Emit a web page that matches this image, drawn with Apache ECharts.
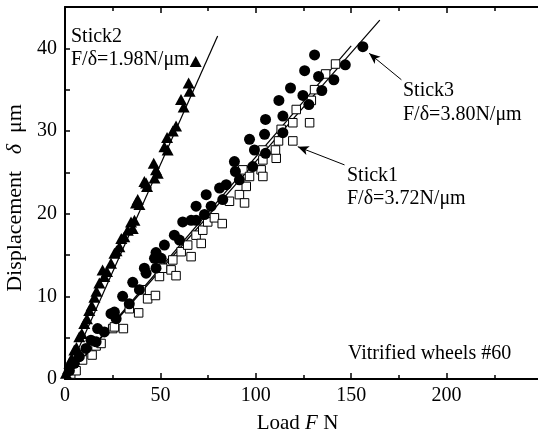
<!DOCTYPE html>
<html><head><meta charset="utf-8">
<script src="https://cdn.jsdelivr.net/npm/echarts@6/dist/echarts.min.js"></script>
<style>html,body{margin:0;padding:0;background:#fff}#c{width:538px;height:432px}</style>
</head><body><div id="c"></div>
<script>
// Stick1 (open squares)
const stick1F = [3.0,5.8,9.2,14.2,16.3,18.9,25.0,25.9,30.6,33.7,38.6,39.9,43.3,47.4,49.5,51.2,55.6,56.5,58.2,60.9,64.3,66.1,68.7,71.4,72.2,74.8,78.3,82.4,86.2,91.4,93.2,94.1,95.0,96.7,102.8,103.7,103.7,103.7,110.7,110.3,111.9,113.3,119.4,119.4,121.2,128.2,129.1,130.8,136.6,141.8];
const stick1D = [0.6,1.0,2.3,2.9,4.0,4.3,6.1,6.3,6.1,8.5,8.0,10.8,9.7,10.1,12.4,13.4,13.2,14.4,12.5,15.4,16.2,14.8,17.4,16.4,18.0,19.0,19.5,18.8,21.5,22.3,25.3,21.3,23.3,24.5,25.3,24.5,26.5,27.7,26.7,27.7,28.8,30.2,31.0,28.8,32.6,31.0,33.7,35.0,36.9,38.1];
// Stick3 (filled circles)
const stick3F = [2.3,4.9,7.5,11.0,13.6,16.3,17.1,20.6,24.1,25.9,26.8,30.2,33.7,35.5,39.0,42.5,41.6,47.7,46.9,50.4,47.7,52.1,57.3,60.0,61.7,66.1,68.7,73.1,68.7,76.6,74.0,82.7,81.0,84.5,91.4,89.3,88.8,98.4,99.3,105.1,96.7,104.6,105.1,114.2,114.2,112.1,118.2,127.8,124.7,134.6,132.9,125.6,130.8,140.9,146.9,156.1];
const stick3D = [1.0,1.9,2.7,3.7,4.7,4.5,6.1,5.7,7.9,8.1,7.3,10.0,9.1,11.7,10.8,12.8,13.4,13.4,14.6,14.6,15.3,16.2,17.4,16.8,19.0,19.2,19.2,19.9,20.9,20.9,22.3,21.7,23.1,23.5,24.1,25.1,26.3,25.7,27.7,27.3,29.0,29.6,31.4,29.8,31.8,33.7,35.2,33.2,34.3,34.9,36.6,37.3,39.2,36.2,38.0,40.2];
// Stick2 (filled triangles)
const stick2F = [0.5,1.5,2.3,3.5,4.9,6.0,7.5,8.8,10.1,11.5,12.7,14.0,15.4,16.5,18.0,19.7,20.6,22.0,24.1,25.9,27.0,28.5,29.5,31.1,32.9,34.6,35.5,36.4,37.2,38.1,39.0,41.6,42.5,43.0,46.5,46.9,47.7,48.6,52.1,53.5,53.8,56.5,58.2,60.8,62.2,64.8,65.3,68.5];
const stick2D = [0.7,1.2,1.9,2.5,3.5,3.8,5.1,5.5,6.7,7.3,8.3,8.9,9.9,10.6,11.6,13.2,12.4,13.0,14.0,15.2,15.5,16.0,17.0,17.2,18.0,19.0,18.2,19.2,21.3,21.7,21.1,23.9,23.7,23.3,26.1,24.3,25.3,24.9,28.1,29.2,27.7,30.0,30.6,33.8,32.9,35.8,34.8,38.4];
// Fitted lines (endpoints)
const fit1F = [0,150], fit1D = [0,40.3];
const fit3F = [0,165], fit3D = [0,43.4];
const fit2F = [0,80],  fit2D = [0,41.5];
const xTicks = [0,50,100,150,200];
const yTicks = [0,10,20,30,40];

const zip = (a,b)=>a.map((v,i)=>[v,b[i]]);
const FONT = 'Liberation Serif';
const chart = echarts.init(document.getElementById('c'), null, {renderer:'canvas'});
const axisLine = {show:true, lineStyle:{color:'#000', width:2}};
const ann = (x,y,text)=>({type:'text', left:x, top:y, style:{text, font:'20px "Liberation Serif"', fill:'#000'}, z:10});

chart.setOption({
  animation:false,
  backgroundColor:'#fff',
  grid:{left:65, right:-4, top:7, bottom:53, containLabel:false, outerBoundsMode:'none'},
  xAxis:[{
    type:'value', min:0, max:250, interval:50, position:'bottom',
    axisLine, splitLine:{show:false},
    axisTick:{show:true, inside:true, length:6, lineStyle:{color:'#000', width:1.5}},
    minorTick:{show:true, splitNumber:2, length:4, lineStyle:{color:'#000', width:1.5}},
    axisLabel:{color:'#000', fontFamily:FONT, fontSize:20, margin:7, showMaxLabel:false,
      formatter:v=>xTicks.includes(v)?String(v):''},
    name:'Load {i|F} N', nameLocation:'middle', nameGap:34,
    nameTextStyle:{color:'#000', fontFamily:FONT, fontSize:21, padding:[0,12,0,0],
      rich:{i:{fontStyle:'italic', fontFamily:FONT, fontSize:21, color:'#000'}}}
  },{
    type:'value', min:0, max:250, interval:50, position:'top',
    axisLine, splitLine:{show:false},
    axisTick:{show:true, inside:true, length:6, lineStyle:{color:'#000', width:1.5}},
    minorTick:{show:true, splitNumber:2, length:4, lineStyle:{color:'#000', width:1.5}},
    axisLabel:{show:false}
  }],
  yAxis:[{
    type:'value', min:0, max:45, interval:5,
    axisLine, splitLine:{show:false},
    axisTick:{show:true, inside:true, length:5, lineStyle:{color:'#000', width:1.5}},
    axisLabel:{color:'#000', fontFamily:FONT, fontSize:20, margin:8, showMaxLabel:false,
      formatter:v=>yTicks.includes(v)?String(v):''},
    name:'Displacement   {i|δ}  μm', nameLocation:'middle', nameGap:32,
    nameTextStyle:{color:'#000', fontFamily:FONT, fontSize:22, padding:[0,10,0,0],
      rich:{i:{fontStyle:'italic', fontFamily:FONT, fontSize:22, color:'#000'}}}
  }],
  series:[
    {type:'line', data:zip(fit1F,fit1D), symbol:'none', lineStyle:{color:'#000', width:1.2}, z:2, silent:true},
    {type:'line', data:zip(fit3F,fit3D), symbol:'none', lineStyle:{color:'#000', width:1.2}, z:2, silent:true},
    {type:'line', data:zip(fit2F,fit2D), symbol:'none', lineStyle:{color:'#000', width:1.2}, z:2, silent:true},
    {type:'scatter', name:'Stick1', data:zip(stick1F,stick1D), symbol:'rect', symbolSize:8.5,
      itemStyle:{color:'#fff', borderColor:'#000', borderWidth:1, opacity:1}, z:3,
      markLine:{silent:true, symbol:['none','arrow'], symbolSize:[7,11], label:{show:false},
        lineStyle:{color:'#000', width:1, type:'solid'},
        data:[[{coord:[146.5,25.9]},{coord:[122,28.1]}]]}
    },
    {type:'scatter', name:'Stick3', data:zip(stick3F,stick3D), symbol:'circle', symbolSize:11,
      itemStyle:{color:'#000', opacity:1}, z:4,
      markLine:{silent:true, symbol:['none','arrow'], symbolSize:[7,11], label:{show:false},
        lineStyle:{color:'#000', width:1, type:'solid'},
        data:[[{coord:[176.3,36.2]},{coord:[159.4,39.4]}]]}
    },
    {type:'scatter', name:'Stick2', data:zip(stick2F,stick2D), symbol:'triangle', symbolSize:[12,11],
      itemStyle:{color:'#000', opacity:1}, z:5}
  ],
  graphic:[
    ann(71,27,'Stick2'),
    ann(71,50,'F/δ=1.98N/μm'),
    ann(403,81,'Stick3'),
    ann(403,105,'F/δ=3.80N/μm'),
    ann(347,166,'Stick1'),
    ann(347,189,'F/δ=3.72N/μm'),
    ann(348,344,'Vitrified wheels #60')
  ]
});
</script></body></html>
